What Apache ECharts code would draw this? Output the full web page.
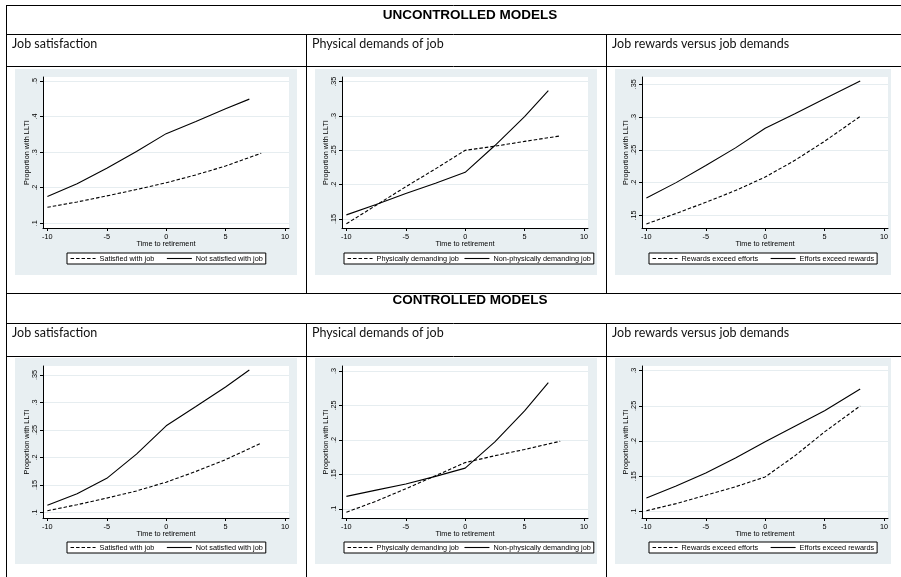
<!DOCTYPE html>
<html>
<head>
<meta charset="utf-8">
<script src="https://cdn.jsdelivr.net/npm/echarts@6/dist/echarts.min.js"></script>
<style>
  html, body { margin: 0; padding: 0; background: #ffffff; }
  #chart { width: 901px; height: 577px; }
</style>
</head>
<body>
<div id="chart"></div>
<script>
// Years to retirement at which the predicted proportions are plotted
const timeTo8 = [-10, -7.5, -5, -2.5, 0, 2.5, 5, 8];
const timeTo7 = [-10, -7.5, -5, -2.5, 0, 2.5, 5, 7];
const xTicks = [-10, -5, 0, 5, 10];

// Uncontrolled models
const satisfiedU      = [0.145, 0.160, 0.177, 0.195, 0.214, 0.236, 0.261, 0.297];
const notSatisfiedU   = [0.175, 0.211, 0.255, 0.302, 0.352, 0.386, 0.422, 0.449];
const physicalU       = [0.143, 0.170, 0.197, 0.223, 0.250, 0.256, 0.263, 0.271];
const nonPhysicalU    = [0.156, 0.171, 0.187, 0.202, 0.218, 0.257, 0.299, 0.337];
const rewardsExceedU  = [0.137, 0.153, 0.170, 0.188, 0.2085, 0.234, 0.263, 0.301];
const effortsExceedU  = [0.1765, 0.200, 0.226, 0.253, 0.283, 0.305, 0.328, 0.355];

// Controlled models
const satisfiedC      = [0.103, 0.114, 0.126, 0.139, 0.155, 0.1745, 0.196, 0.226];
const notSatisfiedC   = [0.113, 0.134, 0.162, 0.206, 0.2575, 0.2925, 0.328, 0.359];
const physicalC       = [0.095, 0.111, 0.129, 0.148, 0.167, 0.177, 0.186, 0.198];
const nonPhysicalC    = [0.118, 0.127, 0.136, 0.147, 0.159, 0.197, 0.242, 0.283];
const rewardsExceedC  = [0.101, 0.111, 0.123, 0.135, 0.149, 0.179, 0.213, 0.250];
const effortsExceedC  = [0.119, 0.136, 0.1545, 0.176, 0.199, 0.221, 0.243, 0.274];

// Y-axis tick values per panel
const yTicksUL = [0.1, 0.2, 0.3, 0.4, 0.5];
const yTicksUM = [0.15, 0.2, 0.25, 0.3, 0.35];
const yTicksUR = [0.15, 0.2, 0.25, 0.3, 0.35];
const yTicksLL = [0.1, 0.15, 0.2, 0.25, 0.3, 0.35];
const yTicksLM = [0.1, 0.15, 0.2, 0.25, 0.3];
const yTicksLR = [0.1, 0.15, 0.2, 0.25, 0.3];

// Text
const sectionTitles = ['UNCONTROLLED MODELS', 'CONTROLLED MODELS'];
const panelTitles = ['Job satisfaction', 'Physical demands of job', 'Job rewards versus job demands'];
const legendNames = [
  ['Satisfied with job', 'Not satisfied with job'],
  ['Physically demanding job', 'Non-physically demanding job'],
  ['Rewards exceed efforts', 'Efforts exceed rewards']
];
const xTitle = 'Time to retirement';
const yTitle = 'Proportion with LLTI';

const panels = [
  { row: 0, col: 0, ticks: yTicksUL, range: [0.0868, 0.5112],
    dashed: [timeTo8, satisfiedU], solid: [timeTo7, notSatisfiedU] },
  { row: 0, col: 1, ticks: yTicksUM, range: [0.1369, 0.3568],
    dashed: [timeTo8, physicalU], solid: [timeTo7, nonPhysicalU] },
  { row: 0, col: 2, ticks: yTicksUR, range: [0.1308, 0.3611],
    dashed: [timeTo8, rewardsExceedU], solid: [timeTo8, effortsExceedU] },
  { row: 1, col: 0, ticks: yTicksLL, range: [0.0898, 0.3663],
    dashed: [timeTo8, satisfiedC], solid: [timeTo7, notSatisfiedC] },
  { row: 1, col: 1, ticks: yTicksLM, range: [0.0866, 0.3072],
    dashed: [timeTo8, physicalC], solid: [timeTo7, nonPhysicalC] },
  { row: 1, col: 2, ticks: yTicksLR, range: [0.0906, 0.3067],
    dashed: [timeTo8, rewardsExceedC], solid: [timeTo8, effortsExceedC] }
];

// Layout of the table and of each graph panel
const colX = [15, 315, 615];
const colBgW = [282, 282, 276];
const rowY = [69, 358];
const gridLeft = [43, 342, 642];
const legendLeft = [67, 344, 649];
const legendGap = [12, 5, 12];
const panelBg = '#e8eff2';
const gridLineColor = '#e6edf0';
const axisFont = 'Liberation Sans, Arial, sans-serif';

const zip = (xs, ys) => xs.map((x, i) => [x, ys[i]]);
const tickText = v => String(v).replace(/^0\./, '.').replace(/^-0\./, '-.');

const grids = [], xAxes = [], yAxes = [], series = [], legends = [], graphics = [];

panels.forEach((p, i) => {
  const bx = colX[p.col], by = rowY[p.row];
  const names = legendNames[p.col];

  graphics.push({
    type: 'rect', silent: true, z: -10,
    shape: { x: bx, y: by, width: colBgW[p.col], height: 206 },
    style: { fill: panelBg }
  });

  grids.push({
    left: gridLeft[p.col], top: by + 8, width: 246, height: p.row ? 152 : 151,
    show: true, backgroundColor: '#ffffff', borderWidth: 0
  });

  xAxes.push({
    type: 'value', gridIndex: i, min: -10.37, max: 10.34,
    name: xTitle, nameLocation: 'middle', nameGap: 12,
    nameTextStyle: { fontFamily: axisFont, fontSize: 7.3, color: '#000' },
    axisLine: { show: true, onZero: false, lineStyle: { color: '#000', width: 1 } },
    axisTick: { show: true, length: 3, customValues: xTicks, lineStyle: { color: '#000', width: 1 } },
    axisLabel: { customValues: xTicks, fontFamily: axisFont, fontSize: 7.3, color: '#000', margin: 5,
                 formatter: v => String(v) },
    splitLine: { show: false }
  });

  yAxes.push({
    type: 'value', gridIndex: i, min: p.range[0], max: p.range[1],
    name: yTitle, nameLocation: 'middle', nameGap: 13, nameRotate: 90,
    nameTextStyle: { fontFamily: axisFont, fontSize: 7.3, color: '#000' },
    axisLine: { show: true, onZero: false, lineStyle: { color: '#000', width: 1 } },
    axisTick: { show: true, length: 3, customValues: p.ticks, lineStyle: { color: '#000', width: 1 } },
    axisLabel: { customValues: p.ticks, rotate: 90, fontFamily: axisFont, fontSize: 7.3, color: '#000',
                 margin: 5, formatter: tickText },
    splitLine: { show: true, lineStyle: { color: gridLineColor, width: 1 } }
  });

  series.push({
    type: 'line', name: names[0], xAxisIndex: i, yAxisIndex: i,
    data: zip(p.dashed[0], p.dashed[1]), symbol: 'none', smooth: false, z: 3,
    lineStyle: { color: '#000', width: 1.1, type: [3.5, 2] }, itemStyle: { color: '#000' }
  });
  series.push({
    type: 'line', name: names[1], xAxisIndex: i, yAxisIndex: i,
    data: zip(p.solid[0], p.solid[1]), symbol: 'none', smooth: false, z: 3,
    lineStyle: { color: '#000', width: 1.1, type: 'solid' }, itemStyle: { color: '#000' }
  });

  legends.push({
    data: names, left: legendLeft[p.col], top: by + 184,
    orient: 'horizontal', selectedMode: false,
    itemWidth: 25, itemHeight: 7, itemGap: legendGap[p.col],
    padding: [2, 3, 2, 3], borderColor: '#000', borderWidth: 1, borderRadius: 0,
    backgroundColor: '#ffffff',
    // line keys only, no marker dot
    itemStyle: { opacity: 0, borderWidth: 0 },
    lineStyle: { width: 1.1 },
    textStyle: { fontFamily: axisFont, fontSize: 7.3, color: '#000', padding: [0, 0, 0, -1] }
  });
});

// Table rules
const ruleStyle = { stroke: '#000', lineWidth: 1 };
const hLines = [5.5, 34.5, 66.5, 293.5, 323.5, 356.5];
hLines.forEach(y => graphics.push({ type: 'line', silent: true, shape: { x1: 6, y1: y, x2: 901, y2: y }, style: ruleStyle }));
graphics.push({ type: 'line', silent: true, shape: { x1: 6.5, y1: 5, x2: 6.5, y2: 577 }, style: ruleStyle });
[306.5, 606.5].forEach(x => {
  graphics.push({ type: 'line', silent: true, shape: { x1: x, y1: 34.5, x2: x, y2: 293.5 }, style: ruleStyle });
  graphics.push({ type: 'line', silent: true, shape: { x1: x, y1: 323.5, x2: x, y2: 577 }, style: ruleStyle });
});

// Section headings and panel titles
const sectionY = [15, 300];
sectionTitles.forEach((t, r) => graphics.push({
  type: 'text', silent: true, x: 470, y: sectionY[r],
  style: { text: t, fill: '#000', font: 'bold 13.5px "Liberation Sans", Arial, sans-serif',
           textAlign: 'center', textVerticalAlign: 'middle' }
}));
const titleY = [44, 333];
[0, 1].forEach(r => panelTitles.forEach((t, c) => graphics.push({
  type: 'text', silent: true, x: colX[c] - 3, y: titleY[r],
  style: { text: t, fill: '#111', font: '12.5px Lato, "Open Sans", sans-serif',
           textAlign: 'left', textVerticalAlign: 'middle' }
})));

const chart = echarts.init(document.getElementById('chart'), null, { renderer: 'canvas' });
chart.setOption({
  animation: false,
  backgroundColor: '#ffffff',
  grid: grids,
  xAxis: xAxes,
  yAxis: yAxes,
  legend: legends,
  series: series,
  graphic: { elements: graphics }
});
</script>
</body>
</html>
